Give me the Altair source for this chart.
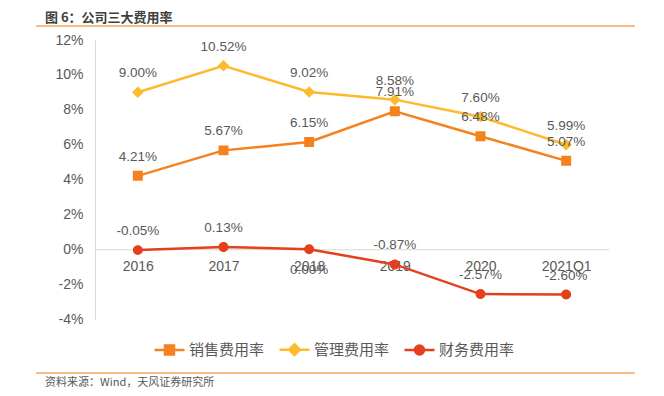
import altair as alt
import pandas as pd

TITLE = "图 6：公司三大费用率"
SOURCE = "资料来源：Wind，天风证券研究所"

years = ["2016", "2017", "2018", "2019", "2020", "2021Q1"]
series_names = ["销售费用率", "管理费用率", "财务费用率"]
sales = [4.21, 5.67, 6.15, 7.91, 6.48, 5.07]
admin = [9.00, 10.52, 9.02, 8.58, 7.60, 5.99]
finance = [-0.05, 0.13, 0.00, -0.87, -2.57, -2.60]
y_ticks = [-4, -2, 0, 2, 4, 6, 8, 10, 12]

colors = ["#F5821F", "#FDBA2C", "#E4401E"]
# marker outlines; the short horizontal stroke only shows in the legend
marker_paths = [
    "M-1,0H1M-0.3,-0.3H0.3V0.3H-0.3Z",
    "M-1,0H1M-0.35,0L0,-0.35L0.35,0L0,0.35Z",
    "M-1,0H1M-0.3,0A0.3,0.3 0 1,0 0.3,0A0.3,0.3 0 1,0 -0.3,0Z",
]

rows = []
for name, vals in zip(series_names, [sales, admin, finance]):
    for yr, v in zip(years, vals):
        rows.append({"year": yr, "series": name, "value": v})
df = pd.DataFrame(rows)

W, H = 514, 279
GREY = "#595959"
LINE = "#D9D9D9"
ACCENT = "#F5A55E"
NUMFONT = "Liberation Sans"
CJK = "Noto Sans CJK SC"

x_enc = alt.X("year:N", sort=years,
              scale=alt.Scale(type="point", padding=0.5),
              axis=alt.Axis(title=None, labelAngle=0, ticks=False, tickSize=0,
                            domainColor=LINE, domainWidth=1, offset=-H * 4 / 16,
                            labelFont=NUMFONT, labelFontSize=14, labelColor=GREY,
                            labelPadding=10))
y_enc = alt.Y("value:Q",
              scale=alt.Scale(domain=[-4, 12], nice=False, zero=False),
              axis=alt.Axis(title=None, values=y_ticks, labelExpr="datum.value + '%'",
                            grid=False, ticks=False, tickSize=0, domainColor=LINE,
                            labelFont=NUMFONT, labelFontSize=14, labelColor=GREY,
                            labelPadding=12))

leg = alt.Legend(title=None, orient="none", legendX=58, legendY=293,
                 direction="horizontal", symbolSize=900, symbolStrokeWidth=2.5,
                 labelFont=CJK, labelFontSize=15, labelColor=GREY,
                 labelOffset=3, columnPadding=9)
color_scale = alt.Scale(domain=series_names, range=colors)
shape_scale = alt.Scale(domain=series_names, range=marker_paths)

base = alt.Chart(df)

lines = base.mark_line(strokeWidth=2.5).encode(
    x=x_enc, y=y_enc,
    color=alt.Color("series:N", scale=color_scale, legend=leg),
    order=alt.Order("year:N"),
)

points = base.mark_point(filled=True, size=1100, opacity=1).encode(
    x=x_enc, y=y_enc,
    color=alt.Color("series:N", scale=color_scale, legend=leg),
    shape=alt.Shape("series:N", scale=shape_scale, legend=leg),
)

LBL = "(datum.value < 0 ? '-' : '') + format(abs(datum.value), '.2f') + '%'"
is_below = "datum.series == '财务费用率' && datum.year == '2018'"
labels_above = (
    base.transform_filter("!(" + is_below + ")")
    .transform_calculate(lbl=LBL)
    .mark_text(dy=-19, font=NUMFONT, fontSize=13.5, color=GREY)
    .encode(x=x_enc, y=y_enc, text="lbl:N")
)
labels_below = (
    base.transform_filter(is_below)
    .transform_calculate(lbl=LBL)
    .mark_text(dy=21, font=NUMFONT, fontSize=13.5, color=GREY)
    .encode(x=x_enc, y=y_enc, text="lbl:N")
)

one = pd.DataFrame({"k": [0]})
title_text = alt.Chart(one).mark_text(
    align="left", baseline="middle", font=CJK, fontSize=13, fontWeight="bold", color="#404040"
).encode(x=alt.value(-50), y=alt.value(-22), text=alt.value(TITLE))
title_rule = alt.Chart(one).mark_rule(color=ACCENT, strokeWidth=1.5).encode(
    x=alt.value(-59), x2=alt.value(540), y=alt.value(-14))
foot_rule = alt.Chart(one).mark_rule(color=ACCENT, strokeWidth=1.5).encode(
    x=alt.value(-59), x2=alt.value(540), y=alt.value(333))
foot_text = alt.Chart(one).mark_text(
    align="left", baseline="middle", font=CJK, fontSize=11, color=GREY
).encode(x=alt.value(-50), y=alt.value(343), text=alt.value(SOURCE))

chart = alt.layer(
    lines, points, labels_above, labels_below,
    title_text, title_rule, foot_rule, foot_text,
).properties(
    width=W, height=H,
    autosize=alt.AutoSizeParams(type="none"),
    padding={"left": 87, "top": 32, "right": 47, "bottom": 69},
    background="white",
).configure_view(stroke=None)

chart.save("out.html", embed_options={"renderer": "svg", "actions": False})
